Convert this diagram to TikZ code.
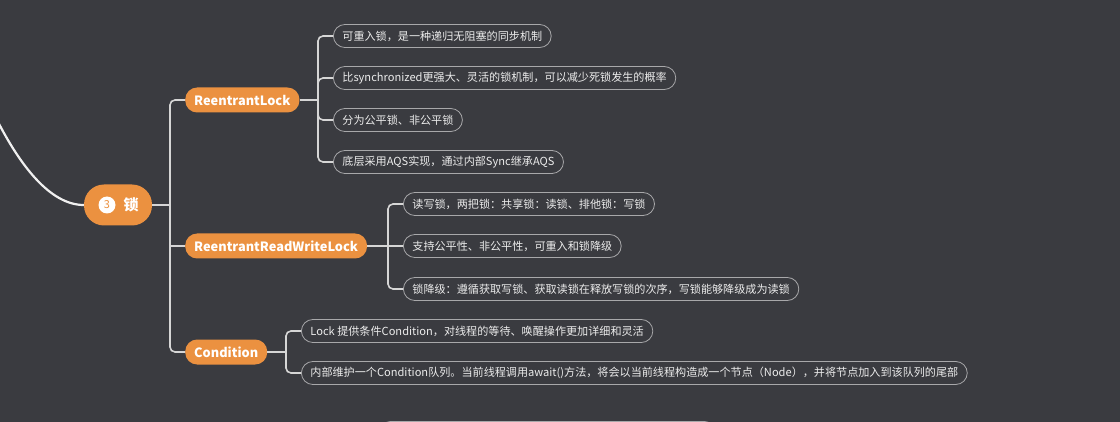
\documentclass[tikz,border=0pt]{standalone}
\usepackage{fontspec}
\setmainfont{Noto Sans CJK SC}
\definecolor{bg}{HTML}{3A3B40}
\definecolor{org}{HTML}{EB9140}
\definecolor{ln}{HTML}{D6D6D6}
\definecolor{bd}{HTML}{A8A8AA}
\definecolor{tx}{HTML}{ECECEC}
\begin{document}
\begin{tikzpicture}[x=1pt,y=-1pt,
  rootbox/.style={fill=org, rounded corners=20pt, minimum width=68pt, minimum height=41pt, inner sep=0pt},
  mainbox/.style={fill=org, rounded corners=12pt, text=white, font=\bfseries\fontsize{12.8}{14}\selectfont, minimum height=25pt, inner xsep=9pt, inner ysep=0pt, anchor=west},
  leaf/.style={draw=bd, line width=0.8pt, rounded corners=11.5pt, text=tx, font=\fontsize{11.1}{12}\selectfont, minimum height=23pt, inner xsep=9pt, inner ysep=0pt, anchor=west},
  conn/.style={draw=ln, line width=1.6pt, rounded corners=5pt}]
\fill[bg] (0,0) rectangle (1120,422);
\useasboundingbox (0,0) rectangle (1120,422);
\clip (0,0) rectangle (1120,422);

% root
\node[rootbox] (root) at (118,205) {};
\node[circle, fill=white, text=org, inner sep=0pt, minimum size=17pt, font=\fontsize{11}{11}\selectfont] (num) at (107,205) {3};
\node[text=white, font=\bfseries\fontsize{15}{15}\selectfont, inner sep=0pt] (suo) at (131,205) {锁};
\coordinate (src) at (-3,120);
\draw[white!88!gray, line width=2.2pt] (src) .. controls (20,165) and (50,205) .. (root.west);

% main branches
\node[mainbox] (rl) at (185,100) {ReentrantLock};
\node[mainbox] (rrwl) at (185,246) {ReentrantReadWriteLock};
\node[mainbox] (cond) at (185,352) {Condition};

\coordinate (j0) at (170,205);
\coordinate (j0m) at (170,246);
\draw[conn] (root.east) -- (j0);
\draw[conn] (j0) |- (rl.west);
\draw[conn] (j0) |- (cond.west);
\draw[conn] (j0m) -- (rrwl.west);

% ReentrantLock leaves
\node[leaf] (a1) at (333,36) {可重入锁，是一种递归无阻塞的同步机制};
\node[leaf] (a2) at (333,78) {比synchronized更强大、灵活的锁机制，可以减少死锁发生的概率};
\node[leaf] (a3) at (333,120) {分为公平锁、非公平锁};
\node[leaf] (a4) at (333,162) {底层采用AQS实现，通过内部Sync继承AQS};
\coordinate (j1) at (318,100);
\draw[conn] (rl.east) -- (j1);
\draw[conn] (j1) |- (a1.west);
\draw[conn] (j1) |- (a2.west);
\draw[conn] (j1) |- (a3.west);
\draw[conn] (j1) |- (a4.west);

% ReentrantReadWriteLock leaves
\node[leaf] (b1) at (403,204) {读写锁，两把锁：共享锁：读锁、排他锁：写锁};
\node[leaf] (b2) at (403,246) {支持公平性、非公平性，可重入和锁降级};
\node[leaf] (b3) at (403,289) {锁降级：遵循获取写锁、获取读锁在释放写锁的次序，写锁能够降级成为读锁};
\coordinate (j2) at (388,246);
\draw[conn] (rrwl.east) -- (b2.west);
\draw[conn] (j2) |- (b1.west);
\draw[conn] (j2) |- (b3.west);

% Condition leaves
\node[leaf] (c1) at (301,331) {Lock 提供条件Condition，对线程的等待、唤醒操作更加详细和灵活};
\node[leaf] (c2) at (301,373) {内部维护一个Condition队列。当前线程调用await()方法，将会以当前线程构造成一个节点（Node），并将节点加入到该队列的尾部};
\coordinate (j3) at (286,352);
\draw[conn] (cond.east) -- (j3);
\draw[conn] (j3) |- (c1.west);
\draw[conn] (j3) |- (c2.west);

% top edge of a box cut off at the bottom
\coordinate (p1) at (380,440);
\coordinate (p2) at (715,440);
\draw[bd, line width=0.8pt, rounded corners=11pt] (p1) -- (380,421.4) -- (715,421.4) -- (p2);
\end{tikzpicture}
\end{document}
